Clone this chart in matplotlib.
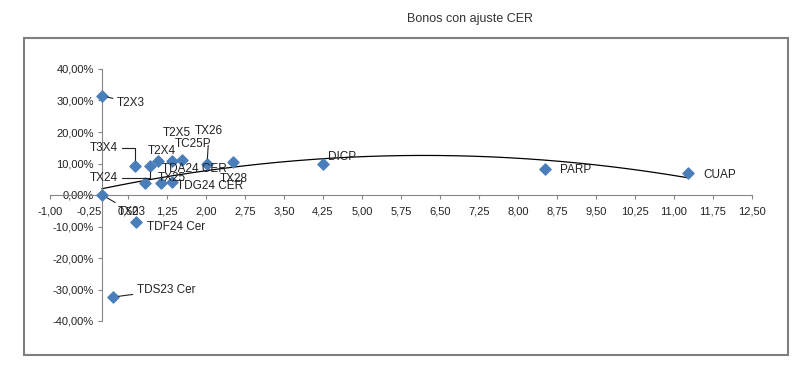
import numpy as np
import matplotlib
matplotlib.use("Agg")
import matplotlib.pyplot as plt
from matplotlib.patches import Rectangle
from matplotlib.ticker import FuncFormatter, MultipleLocator

plt.rcParams['font.family'] = ['Liberation Sans', 'DejaVu Sans']

# bonos: duration (x) vs rendimiento % (y)
bonos = ["T2X3", "TX23", "TDS23 Cer", "TDF24 Cer", "T3X4", "TX24", "TDA24 CER",
         "T2X4", "TX25", "T2X5", "TDG24 CER", "TC25P", "TX26", "TX28",
         "DICP", "PARP", "CUAP"]
duration = [0.0, 0.0, 0.21, 0.65, 0.63, 0.92, 0.83,
            1.08, 1.13, 1.35, 1.35, 1.54, 2.02, 2.52,
            4.25, 8.52, 11.27]
rendimiento = [31.5, 0.0, -32.4, -8.6, 9.2, 9.2, 3.8,
               10.8, 3.8, 10.8, 4.1, 11.1, 9.8, 10.4,
               9.8, 8.3, 7.0]

# label offsets in pixels (dx, dy), alignment, leader style
label_pos = {
    "T2X3": (15, -7, 'left', 'straight'),
    "TX23": (16, -17, 'left', 'straight'),
    "TDS23 Cer": (24, 7, 'left', 'straight'),
    "TDF24 Cer": (11, -5, 'left', None),
    "T3X4": (-17, 18, 'right', 'angle'),
    "TX24": (-32, -12, 'right', 'angle'),
    "TDA24 CER": (17, 14, 'left', None),
    "T2X4": (-10, 10, 'left', None),
    "TX25": (-3, 5, 'left', None),
    "T2X5": (-9, 28, 'left', None),
    "TDG24 CER": (5, -4, 'left', None),
    "TC25P": (-7, 16, 'left', None),
    "TX26": (-12, 33, 'left', 'vert'),
    "TX28": (-13, -17, 'left', None),
    "DICP": (5, 7, 'left', None),
    "PARP": (15, -1, 'left', None),
    "CUAP": (15, -2, 'left', None),
}

fig = plt.figure(figsize=(8, 3.75), dpi=100)
fig.patches.append(Rectangle((24 / 800, 1 - 355 / 375), 764 / 800, 317 / 375,
                             transform=fig.transFigure, fill=False,
                             edgecolor='#7f7f7f', linewidth=1.5))
fig.text(470 / 800, 1 - 19 / 375, "Bonos con ajuste CER", ha='center', va='center',
         fontsize=9, color='#333333')

ax = fig.add_axes([50 / 800, 1 - 321 / 375, 702 / 800, 252 / 375])
ax.set_xlim(-1, 12.5)
ax.set_ylim(-40, 40)

x = np.array(duration)
y = np.array(rendimiento)

# polynomial trend (order 2)
coef = np.polyfit(x, y, 2)
xs = np.linspace(x.min(), x.max(), 200)
ax.plot(xs, np.polyval(coef, xs), color='black', lw=0.9, zorder=2)

ax.scatter(x, y, marker='D', s=32, color='#4a7ebb', zorder=3)

px = 72 / 100
for name, xi, yi in zip(bonos, x, y):
    dx, dy, ha, leader = label_pos[name]
    props = None
    if leader == 'straight':
        props = dict(arrowstyle='-', color='#222222', lw=0.8, shrinkA=1, shrinkB=4)
    elif leader == 'angle':
        props = dict(arrowstyle='-', color='#222222', lw=0.8, shrinkA=1, shrinkB=4,
                     connectionstyle='angle,angleA=0,angleB=90,rad=0')
    elif leader == 'vert':
        props = dict(arrowstyle='-', color='#222222', lw=0.8, shrinkA=4, shrinkB=4)
    ax.annotate(name, (xi, yi), xytext=(dx * px, dy * px), textcoords='offset points',
                ha=ha, va='center', fontsize=8.5, color='#222222',
                arrowprops=props, zorder=4)

for s in ['top', 'right']:
    ax.spines[s].set_visible(False)
ax.spines['left'].set_position(('data', 0))
ax.spines['bottom'].set_position(('data', 0))
for s in ['left', 'bottom']:
    ax.spines[s].set_color('#868686')
    ax.spines[s].set_linewidth(0.8)

ax.yaxis.set_major_locator(MultipleLocator(10))
ax.set_xticks(np.arange(-1, 12.51, 0.75))
ax.xaxis.set_major_formatter(FuncFormatter(lambda v, p: f"{v:.2f}".replace('.', ',')))
ax.yaxis.set_major_formatter(FuncFormatter(lambda v, p: f"{v:.2f}%".replace('.', ',')))
ax.tick_params(axis='both', direction='out', length=3, color='#868686',
               labelsize=8, labelcolor='#222222', pad=3)
ax.tick_params(axis='x', pad=5)

fig.savefig("out.png", dpi=100, facecolor='white')
